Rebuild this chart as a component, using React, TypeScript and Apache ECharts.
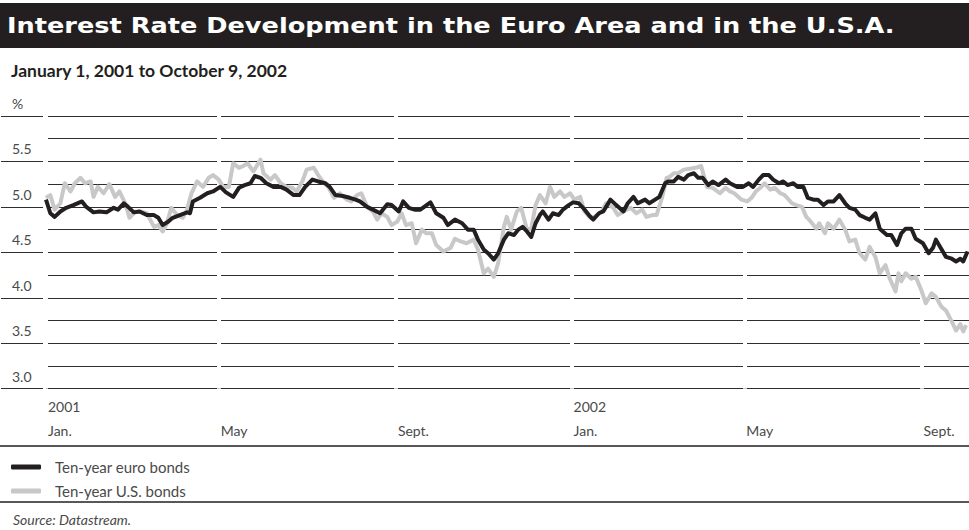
import React, { useEffect, useRef } from 'react';
import * as echarts from 'echarts';

// Day offsets counted from January 1, 2001, and yields in percent.
const euroBonds: [number, number][] = [
  [0, 5.08], [3, 4.93], [6, 4.89], [10, 4.95], [14, 4.99], [19, 5.02], [25, 5.06], [28, 5.0], [33, 4.94], [37, 4.95],
  [42, 4.94], [47, 4.99], [50, 4.97], [54, 5.04], [57, 5.0], [61, 4.94], [65, 4.95], [70, 4.91], [75, 4.91], [78, 4.88],
  [81, 4.8], [85, 4.84], [88, 4.88], [93, 4.91], [98, 4.94], [100, 4.93], [102, 5.06], [107, 5.1], [112, 5.15], [116, 5.17],
  [121, 5.22], [125, 5.16], [130, 5.11], [134, 5.21], [138, 5.24], [142, 5.26], [145, 5.34], [149, 5.32], [153, 5.26], [158, 5.22],
  [163, 5.22], [167, 5.19], [172, 5.13], [176, 5.13], [180, 5.22], [185, 5.3], [189, 5.28], [194, 5.26], [197, 5.22], [201, 5.13],
  [206, 5.12], [211, 5.1], [215, 5.08], [218, 5.06], [223, 5.0], [227, 4.97], [232, 4.93], [237, 5.03], [240, 5.02], [245, 4.95],
  [248, 5.06], [252, 4.99], [256, 4.97], [260, 4.97], [267, 5.05], [271, 4.93], [276, 4.88], [279, 4.8], [284, 4.86], [289, 4.82],
  [293, 4.75], [297, 4.75], [300, 4.64], [304, 4.53], [307, 4.49], [311, 4.42], [314, 4.49], [318, 4.64], [321, 4.71], [325, 4.69],
  [328, 4.75], [331, 4.78], [334, 4.73], [337, 4.67], [340, 4.82], [343, 4.91], [345, 4.95], [349, 4.86], [352, 4.93], [356, 4.91],
  [359, 4.97], [363, 5.02], [366, 5.05], [370, 5.04], [373, 4.99], [377, 4.91], [380, 4.86], [384, 4.93], [387, 4.95], [392, 5.08],
  [396, 5.02], [401, 4.95], [404, 5.04], [408, 5.11], [411, 5.04], [416, 5.08], [419, 5.04], [423, 5.08], [426, 5.11], [430, 5.26],
  [432, 5.28], [436, 5.28], [439, 5.33], [443, 5.3], [446, 5.35], [450, 5.37], [453, 5.32], [456, 5.32], [460, 5.24], [463, 5.28],
  [467, 5.24], [472, 5.3], [475, 5.26], [480, 5.22], [484, 5.22], [488, 5.26], [491, 5.22], [495, 5.3], [498, 5.35], [502, 5.35],
  [505, 5.3], [509, 5.26], [512, 5.28], [515, 5.24], [519, 5.26], [522, 5.22], [526, 5.22], [529, 5.1], [533, 5.08], [536, 5.08],
  [540, 5.02], [543, 5.06], [547, 5.06], [551, 5.13], [555, 5.04], [558, 4.99], [562, 4.97], [565, 4.91], [569, 4.88], [572, 4.86],
  [576, 4.93], [579, 4.76], [584, 4.69], [587, 4.69], [591, 4.58], [594, 4.71], [597, 4.76], [601, 4.76], [604, 4.65], [609, 4.6],
  [613, 4.49], [616, 4.55], [618, 4.64], [622, 4.53], [625, 4.45], [629, 4.43], [632, 4.4], [635, 4.43], [637, 4.4], [640, 4.51],
];

const usBonds: [number, number][] = [
  [0, 5.1], [3, 5.13], [6, 4.97], [10, 5.04], [13, 5.26], [17, 5.17], [20, 5.26], [24, 5.32], [27, 5.26], [31, 5.28],
  [33, 5.11], [36, 5.22], [40, 5.15], [44, 5.25], [48, 5.11], [51, 5.17], [55, 5.04], [58, 4.88], [62, 4.95], [65, 4.95],
  [70, 4.93], [75, 4.78], [78, 4.8], [81, 4.73], [84, 4.82], [87, 4.99], [91, 4.91], [95, 4.88], [98, 4.97], [101, 5.15],
  [105, 5.28], [109, 5.22], [113, 5.32], [116, 5.35], [120, 5.3], [123, 5.22], [127, 5.22], [130, 5.48], [134, 5.43], [137, 5.45],
  [140, 5.48], [144, 5.39], [149, 5.52], [151, 5.37], [156, 5.3], [159, 5.35], [163, 5.26], [167, 5.22], [171, 5.21], [174, 5.17],
  [178, 5.28], [181, 5.41], [186, 5.43], [189, 5.35], [193, 5.26], [196, 5.22], [200, 5.1], [204, 5.15], [209, 5.08], [212, 5.06],
  [216, 5.13], [219, 5.15], [223, 5.0], [227, 4.95], [230, 4.86], [233, 4.93], [237, 4.89], [240, 4.8], [244, 4.84], [247, 4.93],
  [250, 4.8], [254, 4.82], [257, 4.6], [261, 4.75], [264, 4.71], [268, 4.71], [271, 4.58], [276, 4.51], [281, 4.55], [284, 4.65],
  [288, 4.62], [292, 4.6], [297, 4.64], [300, 4.53], [304, 4.27], [307, 4.32], [311, 4.23], [314, 4.38], [318, 4.78], [320, 4.89],
  [323, 4.75], [327, 4.95], [330, 4.99], [334, 4.75], [337, 4.76], [340, 5.02], [343, 5.13], [347, 5.04], [350, 5.22], [353, 5.11],
  [357, 5.17], [360, 5.11], [364, 5.15], [367, 5.08], [371, 5.11], [374, 4.95], [378, 4.88], [381, 4.89], [386, 4.95], [389, 5.04],
  [394, 4.99], [397, 4.91], [401, 4.95], [406, 4.99], [410, 4.93], [414, 4.97], [417, 4.89], [421, 4.91], [424, 4.91], [428, 5.11],
  [431, 5.32], [433, 5.33], [436, 5.37], [439, 5.37], [443, 5.41], [447, 5.42], [451, 5.43], [455, 5.45], [459, 5.22], [463, 5.21],
  [468, 5.15], [472, 5.21], [475, 5.17], [478, 5.15], [483, 5.08], [487, 5.06], [490, 5.1], [493, 5.17], [496, 5.21], [499, 5.26],
  [503, 5.19], [506, 5.21], [510, 5.15], [513, 5.13], [518, 5.04], [521, 5.02], [525, 5.0], [528, 4.89], [531, 4.84], [535, 4.76],
  [537, 4.82], [541, 4.71], [543, 4.82], [547, 4.76], [551, 4.86], [555, 4.75], [558, 4.62], [562, 4.64], [565, 4.49], [569, 4.42],
  [572, 4.56], [576, 4.45], [579, 4.27], [583, 4.36], [586, 4.21], [590, 4.07], [592, 4.27], [594, 4.18], [597, 4.27], [601, 4.21],
  [604, 4.23], [608, 4.08], [611, 3.94], [615, 4.05], [618, 4.01], [622, 3.9], [625, 3.86], [629, 3.74], [632, 3.64], [635, 3.71],
  [637, 3.63], [639, 3.7],
];

// Month starts (days since January 1, 2001) used as x ticks
const tickDays = [0, 120, 243, 365, 485, 608];
const monthLabels = ['Jan.', 'May', 'Sept.', 'Jan.', 'May', 'Sept.'];
const yearLabels = ['2001', '', '', '2002', '', ''];
const lastDay = 641;

const yMin = 3;
const yMax = 6;
const unitLabel = '%';

const seriesNames = ['Ten-year euro bonds', 'Ten-year U.S. bonds'];
const titleText = 'Interest Rate Development in the Euro Area and in the U.S.A.';
const subtitleText = 'January 1, 2001 to October 9, 2002';
const sourceText = 'Source: Datastream.';

const INK = '#231f20';
const GREY_LINE = '#c8c8c8';
const LABEL = '#4a4a4a';
const FONT = 'Lato, "Open Sans", sans-serif';

export default function App() {
  const ref = useRef<HTMLDivElement>(null);

  useEffect(() => {
    if (!ref.current) return;
    const chart = echarts.init(ref.current, null, { renderer: 'svg' });
    const gridTop = 116;
    const gridBottom = 141.3;

    const option: any = {
      animation: false,
      backgroundColor: '#ffffff',
      textStyle: { fontFamily: FONT },
      grid: [
        { left: 46, right: 0, top: gridTop, bottom: gridBottom },
        { left: 1, width: 42, top: gridTop, bottom: gridBottom },
      ],
      xAxis: [
        {
          gridIndex: 0,
          type: 'value',
          min: 0,
          max: lastDay,
          z: 1,
          axisLine: { show: false },
          axisTick: { show: false, customValues: tickDays },
          splitLine: { show: true, lineStyle: { color: '#ffffff', width: 4 } },
          axisLabel: {
            customValues: tickDays,
            align: 'left',
            margin: 6,
            padding: [0, 0, 0, 2],
            formatter: (v: number) => {
              const i = tickDays.indexOf(v);
              const y = i >= 0 && yearLabels[i] ? yearLabels[i] : ' ';
              const m = i >= 0 ? monthLabels[i] : '';
              return `{y|${y}}\n{m|${m}}`;
            },
            rich: {
              y: { fontSize: 14, lineHeight: 24, color: LABEL, fontFamily: FONT },
              m: { fontSize: 14, lineHeight: 24, color: LABEL, fontFamily: FONT },
            },
          },
        },
        { gridIndex: 1, type: 'value', min: 0, max: 1, show: false, splitLine: { show: false } },
      ],
      yAxis: [
        {
          gridIndex: 0,
          type: 'value',
          min: yMin,
          max: yMax,
          interval: 0.25,
          z: 0,
          axisLine: { show: false },
          axisTick: { show: false },
          axisLabel: { show: false },
          splitLine: { show: true, lineStyle: { color: '#2e2e2e', width: 1 } },
        },
        {
          gridIndex: 1,
          type: 'value',
          min: yMin,
          max: yMax,
          interval: 0.5,
          z: 0,
          axisLine: { show: false },
          axisTick: { show: false },
          splitLine: { show: true, lineStyle: { color: '#2e2e2e', width: 1 } },
          axisLabel: {
            inside: true,
            margin: 11,
            align: 'left',
            verticalAlign: 'bottom',
            lineHeight: 25,
            fontSize: 14,
            color: LABEL,
            fontFamily: FONT,
            formatter: (v: number) => (v === yMax ? unitLabel : v.toFixed(1)),
          },
        },
      ],
      legend: {
        orient: 'vertical',
        left: 11,
        top: 458,
        padding: 0,
        itemWidth: 30,
        itemHeight: 5,
        itemGap: 6,
        icon: 'roundRect',
        selectedMode: false,
        data: seriesNames,
        textStyle: { fontSize: 15, color: LABEL, lineHeight: 18, padding: [0, 0, 0, 9], fontFamily: FONT },
      },
      graphic: [
        { type: 'rect', shape: { x: 0, y: 3, width: 969, height: 45 }, style: { fill: INK } },
        {
          type: 'text',
          x: 7,
          y: 26,
          scaleX: 1.22,
          style: {
            text: titleText,
            fill: '#ffffff',
            fontFamily: '"DejaVu Sans", sans-serif',
            fontWeight: 'bold',
            fontSize: 21,
            align: 'left',
            verticalAlign: 'middle',
          },
        },
        {
          type: 'text',
          x: 11,
          y: 70,
          style: {
            text: subtitleText,
            fill: INK,
            fontFamily: FONT,
            fontWeight: 'bold',
            fontSize: 17.5,
            align: 'left',
            verticalAlign: 'middle',
          },
        },
        { type: 'line', shape: { x1: 0, y1: 446, x2: 969, y2: 446 }, style: { stroke: INK, lineWidth: 1.5 } },
        { type: 'line', shape: { x1: 0, y1: 502, x2: 969, y2: 502 }, style: { stroke: INK, lineWidth: 1.5 } },
        {
          type: 'text',
          x: 13,
          y: 519,
          style: {
            text: sourceText,
            fill: LABEL,
            fontFamily: FONT,
            fontStyle: 'italic',
            fontSize: 14,
            align: 'left',
            verticalAlign: 'middle',
          },
        },
      ],
      series: [
        {
          name: seriesNames[1],
          type: 'line',
          xAxisIndex: 0,
          yAxisIndex: 0,
          data: usBonds,
          symbol: 'none',
          showSymbol: false,
          z: 2,
          itemStyle: { color: GREY_LINE },
          lineStyle: { color: GREY_LINE, width: 4, join: 'round' },
        },
        {
          name: seriesNames[0],
          type: 'line',
          xAxisIndex: 0,
          yAxisIndex: 0,
          data: euroBonds,
          symbol: 'none',
          showSymbol: false,
          z: 3,
          itemStyle: { color: INK },
          lineStyle: { color: INK, width: 4, join: 'round' },
        },
      ],
    };

    chart.setOption(option);
    return () => chart.dispose();
  }, []);

  return (
    <div
      ref={ref}
      style={{ position: 'absolute', left: 0, top: 0, width: 969, height: 530 }}
    />
  );
}
